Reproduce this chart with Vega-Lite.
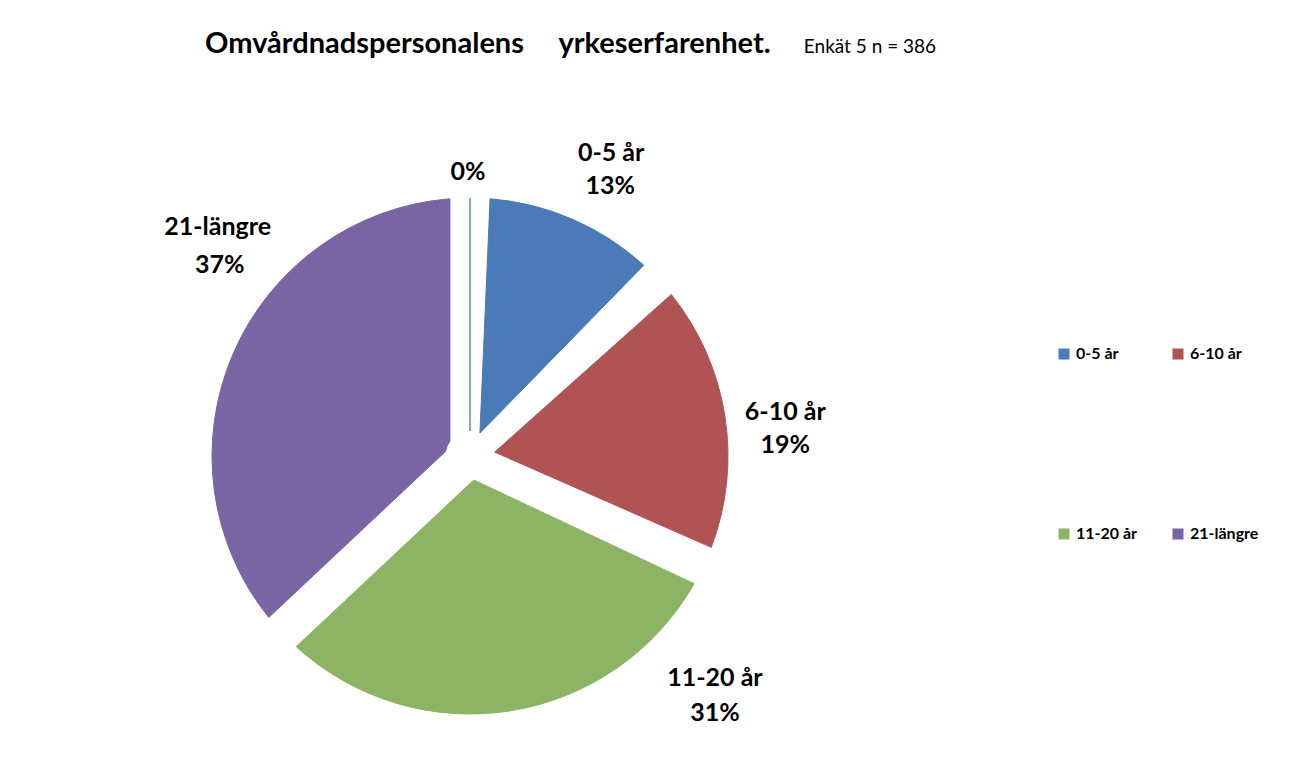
{
  "$schema": "https://vega.github.io/schema/vega-lite/v6.json",
  "width": 940,
  "height": 712,
  "autosize": {"type": "none"},
  "padding": {"left": 0, "top": 100, "right": 350, "bottom": 0},
  "background": "white",
  "title": {
    "text": "Omvårdnadspersonalens\u00a0\u00a0\u00a0\u00a0\u00a0yrkeserfarenhet.",
    "subtitle": "\u2060\u2003\u2003\u2003\u2003\u2003\u2003\u2003\u2003\u2003\u2003\u2003\u2003\u2003\u2003\u2003\u2003\u2003\u2003\u2003\u2003\u2003\u2003\u2003\u2003\u2003\u2003\u2003\u2003\u2003\u2003\u2003\u2003\u2003\u2003\u2003\u2003\u2003\u2003\u2003\u2003\u2003\u00a0\u00a0\u00a0Enkät 5 n = 386",
    "anchor": "start",
    "align": "left",
    "dx": 205,
    "frame": "group",
    "font": "Lato",
    "fontSize": 29,
    "fontWeight": "bold",
    "color": "#000000",
    "subtitleFont": "Lato",
    "subtitleFontSize": 19,
    "subtitleColor": "#000000",
    "subtitlePadding": -21,
    "offset": 41
  },
  "data": {
    "values": [
      {"category": "0-5 år", "share": 0.13},
      {"category": "6-10 år", "share": 0.19},
      {"category": "11-20 år", "share": 0.31},
      {"category": "21-längre", "share": 0.37},
      {"category": "", "share": 0}
    ]
  },
  "transform": [{"window": [{"op": "row_number", "as": "idx"}]}],
  "encoding": {
    "theta": {"field": "share", "type": "quantitative", "stack": true, "scale": {"domain": [0, 1]}},
    "order": {"field": "idx", "type": "quantitative"}
  },
  "layer": [
    {
      "mark": {"type": "arc", "outerRadius": 258, "innerRadius": 25, "padAngle": 0.155, "strokeWidth": 1},
      "encoding": {
        "color": {
          "field": "category", "type": "nominal",
          "scale": {"domain": ["0-5 år", "6-10 år", "11-20 år", "21-längre", ""], "range": ["#4A7AB7", "#B05355", "#8DB465", "#7A64A4", "#4A9C88"]},
          "legend": {
            "values": ["0-5 år", "6-10 år", "11-20 år", "21-längre"],
            "title": null, "orient": "none", "legendX": 1056, "legendY": 246,
            "direction": "horizontal",
            "columns": 2, "columnPadding": 32, "rowPadding": 164,
            "symbolType": "square", "symbolSize": 121, "symbolStrokeWidth": 0,
            "labelFont": "Lato", "labelFontSize": 16, "labelFontWeight": "bold", "labelColor": "#000000", "labelOffset": 4
          }
        },
        "stroke": {
          "field": "category", "type": "nominal",
          "scale": {"domain": ["0-5 år", "6-10 år", "11-20 år", "21-längre", ""], "range": ["#4A7AB7", "#B05355", "#8DB465", "#7A64A4", "#4A9C88"]},
          "legend": null
        }
      }
    },
    {
      "mark": {"type": "text", "clip": true, "radius": 300, "dx": 22, "dy": -28, "font": "Lato", "fontSize": 25, "fontWeight": "bold", "color": "#000000"},
      "encoding": {"detail": {"field": "category"}, "text": {"condition": {"test": {"field": "category", "equal": "0-5 år"}, "field": "category", "type": "nominal"}, "value": ""}}
    },
    {
      "mark": {"type": "text", "clip": true, "radius": 300, "dx": 21, "dy": 5, "font": "Lato", "fontSize": 25, "fontWeight": "bold", "color": "#000000"},
      "encoding": {"detail": {"field": "category"}, "text": {"condition": {"test": {"field": "category", "equal": "0-5 år"}, "field": "share", "type": "quantitative", "format": ".0%"}, "value": ""}}
    },
    {
      "mark": {"type": "text", "clip": true, "radius": 300, "dx": 19, "dy": 3, "font": "Lato", "fontSize": 25, "fontWeight": "bold", "color": "#000000"},
      "encoding": {"detail": {"field": "category"}, "text": {"condition": {"test": {"field": "category", "equal": "6-10 år"}, "field": "category", "type": "nominal"}, "value": ""}}
    },
    {
      "mark": {"type": "text", "clip": true, "radius": 300, "dx": 19, "dy": 36, "font": "Lato", "fontSize": 25, "fontWeight": "bold", "color": "#000000"},
      "encoding": {"detail": {"field": "category"}, "text": {"condition": {"test": {"field": "category", "equal": "6-10 år"}, "field": "share", "type": "quantitative", "format": ".0%"}, "value": ""}}
    },
    {
      "mark": {"type": "text", "clip": true, "radius": 300, "dx": 198, "dy": -74, "font": "Lato", "fontSize": 25, "fontWeight": "bold", "color": "#000000"},
      "encoding": {"detail": {"field": "category"}, "text": {"condition": {"test": {"field": "category", "equal": "11-20 år"}, "field": "category", "type": "nominal"}, "value": ""}}
    },
    {
      "mark": {"type": "text", "clip": true, "radius": 300, "dx": 198, "dy": -39, "font": "Lato", "fontSize": 25, "fontWeight": "bold", "color": "#000000"},
      "encoding": {"detail": {"field": "category"}, "text": {"condition": {"test": {"field": "category", "equal": "11-20 år"}, "field": "share", "type": "quantitative", "format": ".0%"}, "value": ""}}
    },
    {
      "mark": {"type": "text", "clip": true, "radius": 300, "dx": 23, "dy": -110, "font": "Lato", "fontSize": 25, "fontWeight": "bold", "color": "#000000"},
      "encoding": {"detail": {"field": "category"}, "text": {"condition": {"test": {"field": "category", "equal": "21-längre"}, "field": "category", "type": "nominal"}, "value": ""}}
    },
    {
      "mark": {"type": "text", "clip": true, "radius": 300, "dx": 25, "dy": -72, "font": "Lato", "fontSize": 25, "fontWeight": "bold", "color": "#000000"},
      "encoding": {"detail": {"field": "category"}, "text": {"condition": {"test": {"field": "category", "equal": "21-längre"}, "field": "share", "type": "quantitative", "format": ".0%"}, "value": ""}}
    },
    {
      "mark": {"type": "text", "clip": true, "radius": 300, "dx": -2, "dy": 16, "font": "Lato", "fontSize": 25, "fontWeight": "bold", "color": "#000000"},
      "encoding": {"detail": {"field": "category"}, "text": {"condition": {"test": {"field": "category", "equal": ""}, "field": "share", "type": "quantitative", "format": ".0%"}, "value": ""}}
    }
  ],
  "config": {"view": {"stroke": null}}
}
